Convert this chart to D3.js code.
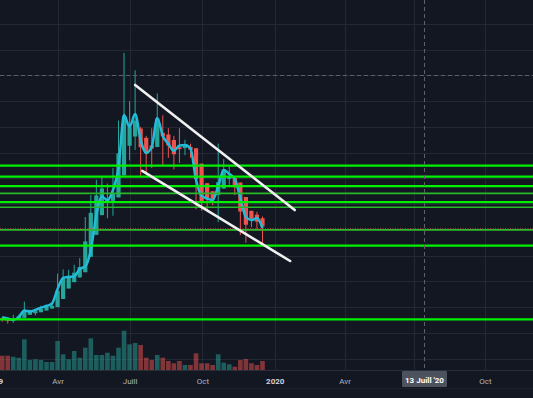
<!DOCTYPE html>
<html>
<head>
<meta charset="utf-8">
<script src="https://cdn.jsdelivr.net/npm/d3@7"></script>
<style>
  html, body { margin: 0; padding: 0; background: #131722; overflow: hidden; }
  svg { display: block; }
</style>
</head>
<body>
<svg id="chart" width="533" height="398"></svg>
<script>
// weekly Heikin Ashi candles, Jan 21 2019 -> Dec 16 2019
const weeks = d3.timeMonday.range(new Date(2019, 0, 21), new Date(2019, 11, 17));

const opens = [3560, 3543, 3502, 3522, 3583, 3699, 3760, 3799, 3866, 3942,
    3998, 4315, 4722, 4967, 5151, 5354, 5952, 6807, 7572, 8091,
    8127, 8261, 9116, 10268, 10628, 10939, 10576, 10276, 10219, 10772,
    10705, 10490, 10214, 10176, 10226, 10170, 9572, 8811, 8500, 8356,
    8603, 8977, 9020, 8839, 8276, 7738, 7588, 7453];
const highs = [3607, 3560, 3700, 3710, 4210, 3900, 3930, 4050, 4100, 4140,
    5300, 5460, 5450, 5640, 5900, 7500, 8350, 8950, 9090, 8800,
    9400, 11250, 13880, 12000, 13200, 11000, 10650, 10950, 12300, 11450,
    10950, 10650, 10950, 10500, 10350, 10170, 9572, 8811, 8500, 10350,
    9750, 9500, 9020, 8839, 8276, 7750, 7700, 7520];
const lows = [3434, 3360, 3390, 3522, 3583, 3699, 3680, 3799, 3866, 3942,
    3998, 4315, 4722, 4967, 5151, 5354, 5952, 6807, 7572, 7450,
    7550, 8261, 9116, 9700, 10100, 9100, 9200, 9400, 10219, 9500,
    9800, 9350, 9600, 9900, 9800, 7800, 7750, 7750, 7950, 7300,
    8603, 8750, 8350, 6800, 6500, 7100, 7000, 6435];
const closes = [3527, 3461, 3543, 3643, 3815, 3821, 3838, 3933, 4018, 4053,
    4633, 5128, 5213, 5335, 5558, 6550, 7663, 8338, 8610, 8163,
    8395, 9970, 11420, 10988, 11250, 10213, 9975, 10163, 11325, 10638,
    10275, 9938, 10138, 10275, 10113, 8975, 8050, 8188, 8213, 8850,
    9350, 9063, 8658, 7713, 7200, 7438, 7318, 7134];
const volumes = [143, 143, 133, 123, 307, 100, 107, 100, 80, 80,
    290, 157, 107, 190, 123, 223, 317, 150, 150, 173,
    143, 223, 393, 257, 270, 250, 123, 100, 150, 123,
    90, 67, 90, 50, 50, 167, 67, 67, 50, 157,
    73, 57, 33, 100, 110, 67, 50, 90];
// cyan line
const lineValues = [3610, 3560, 3500, 3610, 3870, 3830, 3890, 3980, 4040, 4140,
    4700, 5130, 5170, 5190, 5480, 5580, 6220, 7580, 8290, 8160,
    8550, 9400, 11460, 11000, 11500, 10490, 9990, 10220, 11350, 10650,
    10340, 10070, 10280, 10300, 10160, 8940, 8320, 8220, 8160, 8700,
    9330, 9170, 8980, 8240, 7500, 7380, 7460, 7070];

const strongLevels = [9500, 9070, 8700, 8080, 6390, 3520];
const weakLevels = [8420, 7880, 7000];
const lastPrice = 7045;

const trendLines = [
    {from: ["2019-07-08", 12630], to: ["2020-01-27", 7770]},
    {from: ["2019-07-17", 9290], to: ["2020-01-21", 5790]},
];

// the Juill '20 label sits under the crosshair date box, so only its grid line shows
const tickDates = ["2019-01-10", "2019-04-01", "2019-07-01", "2019-10-01",
    "2020-01-01", "2020-04-01", "2020-07-01", "2020-10-01"];
const tickLabels = ["2019", "Avr", "Juill", "Oct", "2020", "Avr", "", "Oct"];

const crossDate = "2020-07-13";
const crossPrice = 13020;
const crossLabel = "13 Juill '20";

const parse = d3.timeParse("%Y-%m-%d");
const W = 533, H = 398, axisY = 370;

const x = d3.scaleTime()
    .domain([parse("2019-01-21"), parse("2019-12-16"), parse("2020-10-01")])
    .range([2.2, 262.5, 485]);
const y = d3.scaleLinear().domain([0, 15000]).range([410, 24]);
const vy = d3.scaleLinear().domain([0, 400]).range([axisY, 330]);

const candles = weeks.map((d, i) => ({
    date: d, open: opens[i], high: highs[i], low: lows[i], close: closes[i],
    volume: volumes[i], line: lineValues[i]
}));

const teal = "#26a69a", red = "#ef5350";
const colorOf = d => d.close >= d.open ? teal : red;

const svg = d3.select("#chart");
svg.append("rect").attr("width", W).attr("height", H).attr("fill", "#131722");

svg.append("clipPath").attr("id", "plotClip")
    .append("rect").attr("width", W).attr("height", axisY);
const plot = svg.append("g").attr("clip-path", "url(#plotClip)");

// grid
plot.append("g").selectAll("line")
    .data(y.ticks(15))
    .join("line")
    .attr("x1", 0).attr("x2", W)
    .attr("y1", d => Math.round(y(d)) + 0.5)
    .attr("y2", d => Math.round(y(d)) + 0.5)
    .attr("stroke", "#242835").attr("stroke-width", 1);
plot.append("g").selectAll("line")
    .data(tickDates.map(parse))
    .join("line")
    .attr("x1", d => Math.round(x(d)) + 0.5)
    .attr("x2", d => Math.round(x(d)) + 0.5)
    .attr("y1", 0).attr("y2", axisY)
    .attr("stroke", "#242835").attr("stroke-width", 1);

// volume
plot.append("g").selectAll("rect")
    .data(candles)
    .join("rect")
    .attr("x", d => x(d.date) - 2.3)
    .attr("width", 4.6)
    .attr("y", d => vy(d.volume))
    .attr("height", d => axisY - vy(d.volume))
    .attr("fill", colorOf)
    .attr("fill-opacity", 0.5);

// candles
const cg = plot.append("g");
cg.selectAll("line")
    .data(candles)
    .join("line")
    .attr("x1", d => x(d.date))
    .attr("x2", d => x(d.date))
    .attr("y1", d => y(d.high))
    .attr("y2", d => y(d.low))
    .attr("stroke", colorOf)
    .attr("stroke-width", 1);
cg.selectAll("rect")
    .data(candles)
    .join("rect")
    .attr("x", d => x(d.date) - 2.1)
    .attr("width", 4.2)
    .attr("y", d => y(Math.max(d.open, d.close)))
    .attr("height", d => Math.max(1, Math.abs(y(d.open) - y(d.close))))
    .attr("fill", colorOf);

// cyan line
plot.append("path")
    .datum(candles)
    .attr("d", d3.line().x(d => x(d.date)).y(d => y(d.line)).curve(d3.curveMonotoneX))
    .attr("fill", "none")
    .attr("stroke", "#22bcd8")
    .attr("stroke-width", 2.5)
    .attr("stroke-linejoin", "round");

// horizontal levels
plot.append("g").selectAll("line")
    .data(weakLevels)
    .join("line")
    .attr("x1", 0).attr("x2", W)
    .attr("y1", d => y(d)).attr("y2", d => y(d))
    .attr("stroke", "#27b927").attr("stroke-width", 1.6);
plot.append("line")
    .attr("x1", 0).attr("x2", W)
    .attr("y1", y(lastPrice)).attr("y2", y(lastPrice))
    .attr("stroke", red).attr("stroke-width", 1)
    .attr("stroke-dasharray", "1,1.5").attr("opacity", 0.8);
plot.append("g").selectAll("line")
    .data(strongLevels)
    .join("line")
    .attr("x1", 0).attr("x2", W)
    .attr("y1", d => y(d)).attr("y2", d => y(d))
    .attr("stroke", "#00f000").attr("stroke-width", 2.2);

// trend lines
plot.append("g").selectAll("line")
    .data(trendLines)
    .join("line")
    .attr("x1", d => x(parse(d.from[0])))
    .attr("y1", d => y(d.from[1]))
    .attr("x2", d => x(parse(d.to[0])))
    .attr("y2", d => y(d.to[1]))
    .attr("stroke", "#f0f0f0")
    .attr("stroke-width", 2.6)
    .attr("stroke-linecap", "round");

// crosshair
const cx = Math.round(x(parse(crossDate))) + 0.5;
const cy = Math.round(y(crossPrice)) + 0.5;
plot.append("line")
    .attr("x1", 0).attr("x2", W).attr("y1", cy).attr("y2", cy)
    .attr("stroke", "#5d606b").attr("stroke-dasharray", "4,3");
plot.append("line")
    .attr("x1", cx).attr("x2", cx).attr("y1", 0).attr("y2", axisY)
    .attr("stroke", "#5d606b").attr("stroke-dasharray", "4,3");

// time axis
svg.append("line")
    .attr("x1", 0).attr("x2", W).attr("y1", axisY + 0.5).attr("y2", axisY + 0.5)
    .attr("stroke", "#2a2e39");
svg.append("line")
    .attr("x1", 0).attr("x2", W).attr("y1", 388.5).attr("y2", 388.5)
    .attr("stroke", "#1e222d");

const axis = svg.append("g")
    .attr("transform", `translate(0,${axisY})`)
    .call(d3.axisBottom(x)
        .tickValues(tickDates.map(parse))
        .tickFormat((d, i) => tickLabels[i])
        .tickSize(0)
        .tickPadding(8));
axis.select(".domain").remove();
axis.selectAll("text")
    .attr("fill", (d, i) => /^\d+$/.test(tickLabels[i]) ? "#d1d4dc" : "#b2b5be")
    .style("font-family", "Roboto, 'Liberation Sans', sans-serif")
    .style("font-size", "8px")
    .style("font-weight", (d, i) => /^\d+$/.test(tickLabels[i]) ? "bold" : "normal");

// crosshair date label
svg.append("rect")
    .attr("x", cx - 22.5).attr("y", 371)
    .attr("width", 45).attr("height", 16)
    .attr("rx", 1)
    .attr("fill", "#4c525e");
svg.append("text")
    .attr("x", cx).attr("y", 382.5)
    .attr("text-anchor", "middle")
    .attr("fill", "#ffffff")
    .style("font-family", "Roboto, 'Liberation Sans', sans-serif")
    .style("font-size", "8px")
    .style("font-weight", "bold")
    .text(crossLabel);
</script>
</body>
</html>
